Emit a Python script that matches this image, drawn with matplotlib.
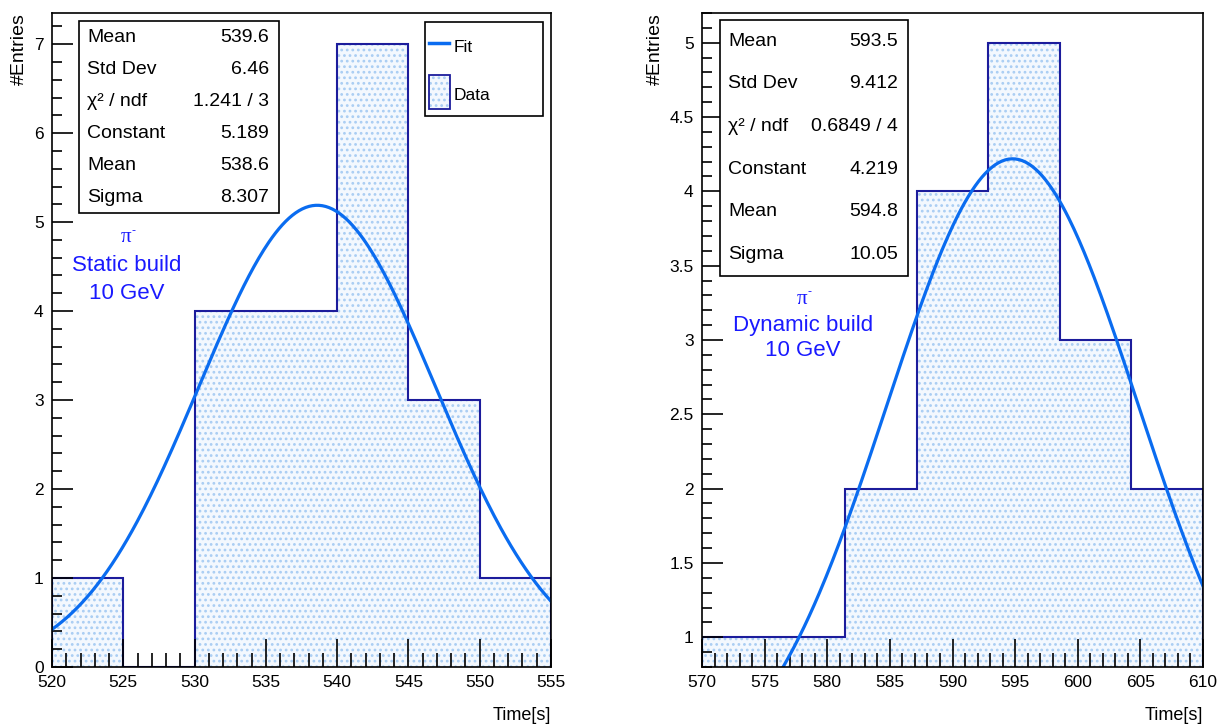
import numpy as np
import matplotlib.pyplot as plt
from matplotlib.lines import Line2D
from matplotlib.ticker import MultipleLocator, FormatStrFormatter

plt.rcParams['font.family'] = ['Liberation Sans', 'DejaVu Sans']
plt.rcParams['hatch.linewidth'] = 1.2

# left: static build
edges_s = [520, 525, 530, 535, 540, 545, 550, 555]
counts_s = [1, 0, 4, 4, 7, 3, 1]
fit_s = (5.189, 538.6, 8.307)
stats_s = [('Mean', '539.6'), ('Std Dev', '6.46'), ('χ² / ndf', '1.241 / 3'),
           ('Constant', '5.189'), ('Mean', '538.6'), ('Sigma', '8.307')]

# right: dynamic build
edges_d = list(np.linspace(570, 610, 8))
counts_d = [1, 1, 2, 4, 5, 3, 2]
fit_d = (4.219, 594.8, 10.05)
stats_d = [('Mean', '593.5'), ('Std Dev', '9.412'), ('χ² / ndf', '0.6849 / 4'),
           ('Constant', '4.219'), ('Mean', '594.8'), ('Sigma', '10.05')]

line_c = '#0a6cf0'
edge_c = '#1c1c9c'
dot_c = '#a9cdf3'
fill_c = '#f3f8fe'
text_c = '#1a1aff'

W, H = 1224, 725
fig = plt.figure(figsize=(12.24, 7.25), dpi=100)
ax1 = fig.add_axes([52/W, 58/H, 499/W, 654/H])
ax2 = fig.add_axes([702/W, 58/H, 501/W, 654/H])


def fx(px):
    return px / W


def fy(py):
    return 1 - py / H


def draw(ax, edges, counts, fit, ylim, xmaj, ymaj, ymin_minor):
    ax.stairs(counts, edges, baseline=ylim[0], fill=True,
              facecolor=fill_c, edgecolor=dot_c, hatch='...', lw=0)
    ax.stairs(counts, edges, baseline=0, fill=False, edgecolor=edge_c, lw=1.5)
    c, m, s = fit
    x = np.linspace(edges[0], edges[-1], 300)
    ax.plot(x, c*np.exp(-0.5*((x-m)/s)**2), color=line_c, lw=2.3)
    ax.set_xlim(edges[0], edges[-1])
    ax.set_ylim(*ylim)
    ax.xaxis.set_major_locator(MultipleLocator(xmaj))
    ax.xaxis.set_minor_locator(MultipleLocator(1))
    ax.yaxis.set_major_locator(MultipleLocator(ymaj))
    ax.yaxis.set_minor_locator(MultipleLocator(ymin_minor))
    ax.yaxis.set_major_formatter(FormatStrFormatter('%g'))
    ax.tick_params(which='both', direction='in', top=False, right=False,
                   labelsize=12.5, width=1.2, pad=6)
    ax.tick_params(axis='x', which='major', length=20)
    ax.tick_params(axis='x', which='minor', length=10)
    ax.tick_params(axis='y', which='major', length=15)
    ax.tick_params(axis='y', which='minor', length=7)
    for sp in ax.spines.values():
        sp.set_linewidth(1.2)
    ax.set_ylabel('#Entries', fontsize=14, loc='top', labelpad=4)
    ax.set_xlabel('Time[s]', fontsize=13, loc='right', labelpad=12)


def stats_box(rows, x0, y0, x1, y1):
    rect = plt.Rectangle((fx(x0), fy(y1)), fx(x1)-fx(x0), fy(y0)-fy(y1),
                         transform=fig.transFigure, facecolor='white',
                         edgecolor='black', lw=1.2, zorder=5)
    fig.add_artist(rect)
    h = (y1 - y0) / len(rows)
    for i, (k, v) in enumerate(rows):
        yy = fy(y0 + h*(i+0.5))
        fig.text(fx(x0 + 8), yy, k, fontsize=14, va='center', ha='left', zorder=6)
        fig.text(fx(x1 - 10), yy, v, fontsize=14, va='center', ha='right', zorder=6)


draw(ax1, edges_s, counts_s, fit_s, (0, 7.35), 5, 1, 0.2)
draw(ax2, edges_d, counts_d, fit_d, (0.8, 5.2), 5, 0.5, 0.1)

stats_box(stats_s, 79, 21, 279, 213)
stats_box(stats_d, 720, 20, 908, 276)

# legend drawn by hand, ROOT-style
fig.add_artist(plt.Rectangle((fx(425), fy(116)), fx(543)-fx(425), fy(22)-fy(116),
                             transform=fig.transFigure, facecolor='white',
                             edgecolor='black', lw=1.2, zorder=5))
fig.add_artist(Line2D([fx(429), fx(449)], [fy(43), fy(43)], color=line_c, lw=2.5,
                      transform=fig.transFigure, zorder=6))
fig.add_artist(plt.Rectangle((fx(429), fy(109)), fx(450)-fx(429), fy(75)-fy(109),
                             transform=fig.transFigure, facecolor=fill_c,
                             edgecolor=dot_c, hatch='...', lw=0, zorder=6))
fig.add_artist(plt.Rectangle((fx(429), fy(109)), fx(450)-fx(429), fy(75)-fy(109),
                             transform=fig.transFigure, facecolor='none',
                             edgecolor=edge_c, lw=1.3, zorder=7))
fig.text(fx(454), fy(48), 'Fit', fontsize=12.5, va='center', ha='left', zorder=7)
fig.text(fx(454), fy(96), 'Data', fontsize=12.5, va='center', ha='left', zorder=7)

for x, ys, lines in [(127, (238, 265, 293), ['Static build', '10 GeV']),
                     (803, (299, 325, 351), ['Dynamic build', '10 GeV'])]:
    fig.text(fx(x - 1), fy(ys[0]), 'π', color=text_c, fontsize=15,
             family='Liberation Serif', ha='center', va='center')
    fig.text(fx(x + 7), fy(ys[0] - 7), '-', color=text_c, fontsize=9,
             ha='center', va='center')
    for y, t in zip(ys[1:], lines):
        fig.text(fx(x), fy(y), t, color=text_c, fontsize=16,
                 ha='center', va='center')

fig.savefig('out.png', dpi=100)
